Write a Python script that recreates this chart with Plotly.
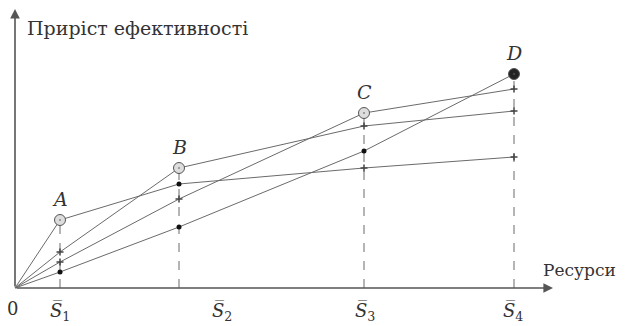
import plotly.graph_objects as go

# resource levels S1..S4 (origin at 0)
s_levels = [45, 164, 349, 499]
s_labels = ["1", "2", "3", "4"]
point_names = ["A", "B", "C", "D"]

# efficiency growth of the four variants at 0, S1, S2, S3, S4
curve_a = [0, 68, 104, 120, 131]
curve_b = [0, 36, 120, 162, 177]
curve_c = [0, 26, 89, 175, 199]
curve_d = [0, 16, 61, 137, 214]
curves = [curve_a, curve_b, curve_c, curve_d]

# marker kind at each S for every curve: 'o' optimum, 'd' dot, 'x' tick
marks = [
    ["o", "d", "x", "x"],
    ["x", "o", "x", "x"],
    ["x", "x", "o", "x"],
    ["d", "d", "d", "o"],
]

line_col = "#6a6a6a"
text_col = "#333333"
serif = "DejaVu Serif, serif"

fig = go.Figure()
xs = [0] + s_levels

# dashed verticals from the best point at each level down to the axis
for i, s in enumerate(s_levels):
    top = max(c[i + 1] for c in curves)
    fig.add_trace(go.Scatter(x=[s, s], y=[0, top], mode="lines",
                             line=dict(color=line_col, width=1, dash="dash"),
                             showlegend=False, hoverinfo="skip"))

for c in curves:
    fig.add_trace(go.Scatter(x=xs, y=c, mode="lines",
                             line=dict(color=line_col, width=1),
                             showlegend=False, hoverinfo="skip"))

# markers
for k, c in enumerate(curves):
    for i, s in enumerate(s_levels):
        m = marks[k][i]
        if m == "o":
            fill = "#222222" if i == 3 else "#dddddd"
            fig.add_trace(go.Scatter(x=[s], y=[c[i + 1]], mode="markers",
                                     marker=dict(symbol="circle-dot", size=11, color=fill,
                                                 line=dict(color="#555555", width=1)),
                                     showlegend=False, hoverinfo="skip"))
        elif m == "d":
            fig.add_trace(go.Scatter(x=[s], y=[c[i + 1]], mode="markers",
                                     marker=dict(symbol="circle", size=5, color="#111111"),
                                     showlegend=False, hoverinfo="skip"))
        else:
            fig.add_trace(go.Scatter(x=[s], y=[c[i + 1]], mode="markers",
                                     marker=dict(symbol="cross-thin", size=5,
                                                 line=dict(color="#444444", width=1.5)),
                                     showlegend=False, hoverinfo="skip"))

anns = []
# axes with arrows
anns.append(dict(x=538, y=0, ax=0, ay=0, xref="x", yref="y", axref="x", ayref="y",
                 text="", showarrow=True, arrowhead=2, arrowsize=1.2, arrowwidth=1.6,
                 arrowcolor="#555555"))
anns.append(dict(x=0, y=279, ax=0, ay=0, xref="x", yref="y", axref="x", ayref="y",
                 text="", showarrow=True, arrowhead=2, arrowsize=1.2, arrowwidth=1.6,
                 arrowcolor="#555555"))

# point labels A-D above the optimum of each level
for i, s in enumerate(s_levels):
    top = max(c[i + 1] for c in curves)
    anns.append(dict(x=s, y=top, xref="x", yref="y", text="<i>%s</i>" % point_names[i],
                     showarrow=False, yshift=21, font=dict(family=serif, size=19, color=text_col)))

# S labels under the axis
s_label_x = [45, 207, 350, 498]
for i, lx in enumerate(s_label_x):
    anns.append(dict(x=lx, y=0, xref="x", yref="y",
                     text="<i>S\u0305</i><sub>%s</sub>" % s_labels[i],
                     showarrow=False, yshift=-24, font=dict(family=serif, size=18, color=text_col)))

anns.append(dict(x=-3, y=0, xref="x", yref="y", text="0", showarrow=False, yshift=-20,
                 font=dict(family=serif, size=18, color=text_col)))
anns.append(dict(x=526, y=18, xref="x", yref="y", text="Ресурси", showarrow=False,
                 xanchor="left", font=dict(family=serif, size=17, color=text_col)))
anns.append(dict(x=10, y=260, xref="x", yref="y", text="Приріст ефективності", showarrow=False,
                 xanchor="left", font=dict(family=serif, size=19, color=text_col)))

# the page body adds an 8px margin, so the ranges are shifted to compensate
fig.update_layout(
    width=626, height=326,
    margin=dict(l=0, r=0, t=0, b=0),
    paper_bgcolor="white", plot_bgcolor="white",
    xaxis=dict(range=[-7, 619], visible=False, fixedrange=True),
    yaxis=dict(range=[-46, 280], visible=False, fixedrange=True),
    annotations=anns,
)

fig.write_html("out.html")
